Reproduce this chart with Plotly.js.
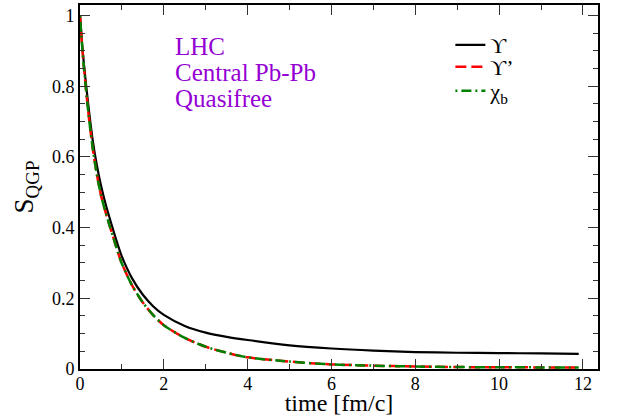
<!DOCTYPE html>
<html>
<head>
<meta charset="utf-8">
<script src="https://cdn.plot.ly/plotly-3.0.1.min.js"></script>
<style>html,body{margin:0;padding:0;background:#fff;}#chart{width:617px;height:416px;}</style>
</head>
<body>
<div id="chart"></div>
<script>
// time [fm/c]
const time = [0, 0.05, 0.1, 0.2, 0.3, 0.4, 0.5, 0.6, 0.7, 0.8, 0.9, 1.0, 1.25, 1.5, 1.75, 2.0, 2.5, 3.0, 3.5, 4.0, 5.0, 6.0, 7.0, 8.0, 9.0, 10.0, 11.0, 11.9];
// S_QGP for Upsilon(1S)
const sUpsilon = [1.0, 0.92, 0.855, 0.745, 0.65, 0.578, 0.52, 0.472, 0.43, 0.39, 0.352, 0.318, 0.255, 0.21, 0.177, 0.153, 0.122, 0.103, 0.091, 0.082, 0.067, 0.058, 0.052, 0.048, 0.046, 0.045, 0.044, 0.043];
// S_QGP for Upsilon'
const sUpsilonPrime = [1.0, 0.915, 0.845, 0.725, 0.628, 0.552, 0.492, 0.448, 0.408, 0.37, 0.332, 0.298, 0.235, 0.188, 0.152, 0.124, 0.088, 0.063, 0.046, 0.033, 0.021, 0.013, 0.0095, 0.007, 0.0055, 0.005, 0.0045, 0.004];
// S_QGP for chi_b
const sChiB = [1.0, 0.915, 0.845, 0.725, 0.628, 0.552, 0.492, 0.448, 0.408, 0.37, 0.332, 0.298, 0.235, 0.188, 0.152, 0.124, 0.088, 0.063, 0.046, 0.033, 0.021, 0.013, 0.0095, 0.007, 0.0055, 0.005, 0.0045, 0.004];
const names = ["\u03D2", "\u03D2\u2019", "\u03C7<sub>b</sub>"];
const annoLines = ["LHC", "Central Pb-Pb", "Quasifree"];

const serif = "Liberation Serif";
const traces = [
  {x: time, y: sUpsilon, name: names[0], legend: "legend", mode: "lines", line: {color: "#000000", width: 2.2, shape: "spline", smoothing: 0.8}},
  {x: time, y: sUpsilonPrime, name: names[1], legend: "legend2", mode: "lines", line: {color: "#ff0000", width: 2.5, dash: "11px,5px", shape: "spline", smoothing: 0.8}},
  {x: time, y: sChiB, name: names[2], legend: "legend3", mode: "lines", line: {color: "#008000", width: 2.5, dash: "2px,4px,10px,4px", shape: "spline", smoothing: 0.8}}
];

const axisCommon = {
  showline: true, linecolor: "#000", linewidth: 2, mirror: "ticks",
  ticks: "inside", ticklen: 10, tickwidth: 1, tickcolor: "#333",
  showgrid: false, zeroline: false,
  tickfont: {family: serif, size: 18, color: "#000"}
};

const annotations = annoLines.map((t, i) => ({
  xref: "paper", yref: "paper", x: 0.18, y: 1 - (41 + 26.5 * i) / 364, xanchor: "left", yanchor: "middle",
  showarrow: false, text: t, font: {family: serif, size: 25, color: "#9400d3"}
}));

function legendAt(py) {
  return {x: 0.715, y: 1 - (py - 5) / 364, xanchor: "left", yanchor: "middle", bgcolor: "rgba(0,0,0,0)",
          font: {family: serif, size: 22, color: "#000"}, itemwidth: 30, tracegroupgap: 0};
}

const layout = {
  width: 617, height: 416,
  margin: {l: 80, r: 19, t: 5, b: 47},
  paper_bgcolor: "#fff", plot_bgcolor: "#fff",
  showlegend: true,
  legend: legendAt(45),
  legend2: legendAt(67),
  legend3: legendAt(91),
  xaxis: Object.assign({}, axisCommon, {
    range: [0, 12.36], tickvals: [0, 2, 4, 6, 8, 10, 12], ticktext: ["0","2","4","6","8","10","12"],
    ticklabelstandoff: -3,
    minor: {ticks: "inside", ticklen: 5, dtick: 1, tick0: 0, tickcolor: "#333", tickwidth: 1},
    title: {text: "time [fm/c]", font: {family: serif, size: 24, color: "#000"}, standoff: 2}
  }),
  yaxis: Object.assign({}, axisCommon, {
    range: [0, 1.03], tickvals: [0, 0.2, 0.4, 0.6, 0.8, 1], ticktext: ["0","0.2","0.4","0.6","0.8","1"],
    minor: {ticks: "inside", ticklen: 5, dtick: 0.05, tick0: 0, tickcolor: "#333", tickwidth: 1},
    title: {text: "S<sub>QGP</sub>", font: {family: serif, size: 27, color: "#000"}, standoff: 10}
  }),
  annotations: annotations
};

Plotly.newPlot("chart", traces, layout, {displayModeBar: false, staticPlot: true});
</script>
</body>
</html>
